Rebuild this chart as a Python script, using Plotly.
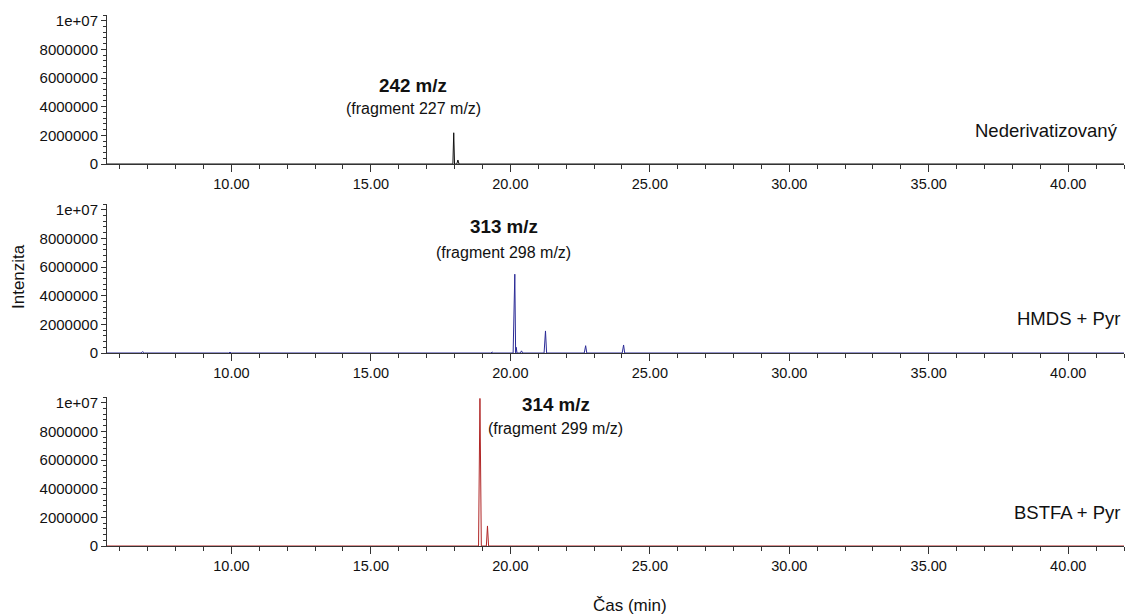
import plotly.graph_objects as go

# ---- data ----
t_nederiv = [5.54, 17.90, 17.94, 17.97, 18.00, 18.08, 18.12, 18.16, 42.0]
i_nederiv = [0, 0, 0, 2180000, 0, 0, 280000, 0, 0]

t_hmds = [5.54, 6.76, 6.82, 6.88, 9.90, 9.95, 10.00, 19.30, 19.35, 19.40,
          20.10, 20.16, 20.19, 20.21, 20.24, 20.36, 20.40, 20.44,
          21.21, 21.26, 21.30, 22.65, 22.70, 22.74, 24.01, 24.06, 24.10, 42.0]
i_hmds = [0, 0, 90000, 0, 0, 50000, 0, 0, 60000, 0,
          0, 5500000, 0, 400000, 0, 0, 150000, 0,
          0, 1540000, 0, 0, 510000, 0, 0, 560000, 0, 0]

t_bstfa = [5.54, 18.86, 18.91, 18.96, 19.14, 19.18, 19.22,
           19.60, 19.65, 19.70, 20.10, 20.15, 20.20, 20.75, 20.80, 20.85, 42.0]
i_bstfa = [0, 0, 10300000, 0, 0, 1400000, 0,
           0, 40000, 0, 0, 40000, 0, 0, 50000, 0, 0]

y_tickvals = [0, 2000000, 4000000, 6000000, 8000000, 10000000]
y_ticktext = ["0", "2000000", "4000000", "6000000", "8000000", "1e+07"]
x_tickvals = [10, 15, 20, 25, 30, 35, 40]
x_ticktext = ["10.00", "15.00", "20.00", "25.00", "30.00", "35.00", "40.00"]

panel_names = ["Nederivatizovaný", "HMDS + Pyr", "BSTFA + Pyr"]
ion_labels = ["242 m/z", "313 m/z", "314 m/z"]
frag_labels = ["(fragment 227 m/z)", "(fragment 298 m/z)", "(fragment 299 m/z)"]
colors = ["#111111", "#2b2b96", "#b02525"]

# ---- layout geometry (pixels) ----
W, H = 1125, 615
ML, MR, MT, MB = 107, 1, 15, 69
PW, PH = W - ML - MR, H - MT - MB
bottom_px = H - MB

def px_x(px):
    return (px - ML) / PW

def px_y(py):
    return (bottom_px - py) / PH

panel_px = [(15, 164), (204, 353), (397, 546)]  # (top, bottom)

FONT = "Liberation Sans, Arial, sans-serif"

fig = go.Figure()
series = [(t_nederiv, i_nederiv), (t_hmds, i_hmds), (t_bstfa, i_bstfa)]
for k, (t, v) in enumerate(series):
    ax = "" if k == 0 else str(k + 1)
    fig.add_trace(go.Scatter(x=t, y=v, mode="lines",
                             line=dict(color=colors[k], width=1),
                             xaxis="x" + ax, yaxis="y" + ax,
                             showlegend=False, hoverinfo="x+y"))

layout = dict(width=W, height=H, margin=dict(l=ML, r=MR, t=MT, b=MB),
              paper_bgcolor="white", plot_bgcolor="white",
              font=dict(family=FONT, color="#111111"))

for k in range(3):
    ax = "" if k == 0 else str(k + 1)
    top, bot = panel_px[k]
    dom = [px_y(bot), px_y(top)]
    layout["xaxis" + ax] = dict(
        domain=[0, 1], range=[5.54, 42.0], anchor="y" + ax,
        tickvals=x_tickvals, ticktext=x_ticktext,
        ticks="outside", ticklen=7, tickcolor="#333333", tickwidth=1,
        showline=True, linecolor="#333333", linewidth=1,
        showgrid=False, zeroline=False,
        tickfont=dict(size=14.5, family=FONT, color="#111111"),
        minor=dict(dtick=1, tick0=0, ticks="outside", ticklen=4,
                   tickcolor="#333333", showgrid=False),
    )
    layout["yaxis" + ax] = dict(
        domain=dom, range=[0, 10400000], anchor="x" + ax,
        tickvals=y_tickvals, ticktext=y_ticktext,
        ticks="outside", ticklen=5, tickcolor="#333333", tickwidth=1,
        showline=True, linecolor="#333333", linewidth=1,
        showgrid=False, zeroline=False,
        tickfont=dict(size=15, family=FONT, color="#111111"),
        minor=dict(dtick=400000, ticks="outside", ticklen=3,
                   tickcolor="#333333", showgrid=False),
    )

fig.update_layout(**layout)

ann = []
ion_pos = [(413, 85), (504, 227), (556, 404)]
frag_pos = [(413, 109), (503, 252), (555, 428)]
name_pos = [(1120, 130), (1122, 318), (1122, 512)]
for k in range(3):
    ann.append(dict(text="<b>" + ion_labels[k] + "</b>", x=px_x(ion_pos[k][0]),
                    y=px_y(ion_pos[k][1]), xref="paper", yref="paper",
                    xanchor="center", yanchor="middle", showarrow=False,
                    font=dict(size=18.8, family=FONT, color="#111111")))
    ann.append(dict(text=frag_labels[k], x=px_x(frag_pos[k][0]),
                    y=px_y(frag_pos[k][1]), xref="paper", yref="paper",
                    xanchor="center", yanchor="middle", showarrow=False,
                    font=dict(size=16, family=FONT, color="#111111")))
    ann.append(dict(text=panel_names[k], x=px_x(name_pos[k][0]),
                    y=px_y(name_pos[k][1]), xref="paper", yref="paper",
                    xanchor="right", yanchor="middle", showarrow=False,
                    font=dict(size=18.5, family=FONT, color="#111111")))

ann.append(dict(text="Intenzita", x=px_x(18), y=px_y(277), xref="paper", yref="paper",
                xanchor="center", yanchor="middle", showarrow=False, textangle=-90,
                font=dict(size=17, family=FONT, color="#111111")))
ann.append(dict(text="Čas (min)", x=px_x(630), y=px_y(605), xref="paper", yref="paper",
                xanchor="center", yanchor="middle", showarrow=False,
                font=dict(size=17, family=FONT, color="#111111")))
fig.update_layout(annotations=ann)

fig.write_html("out.html")
